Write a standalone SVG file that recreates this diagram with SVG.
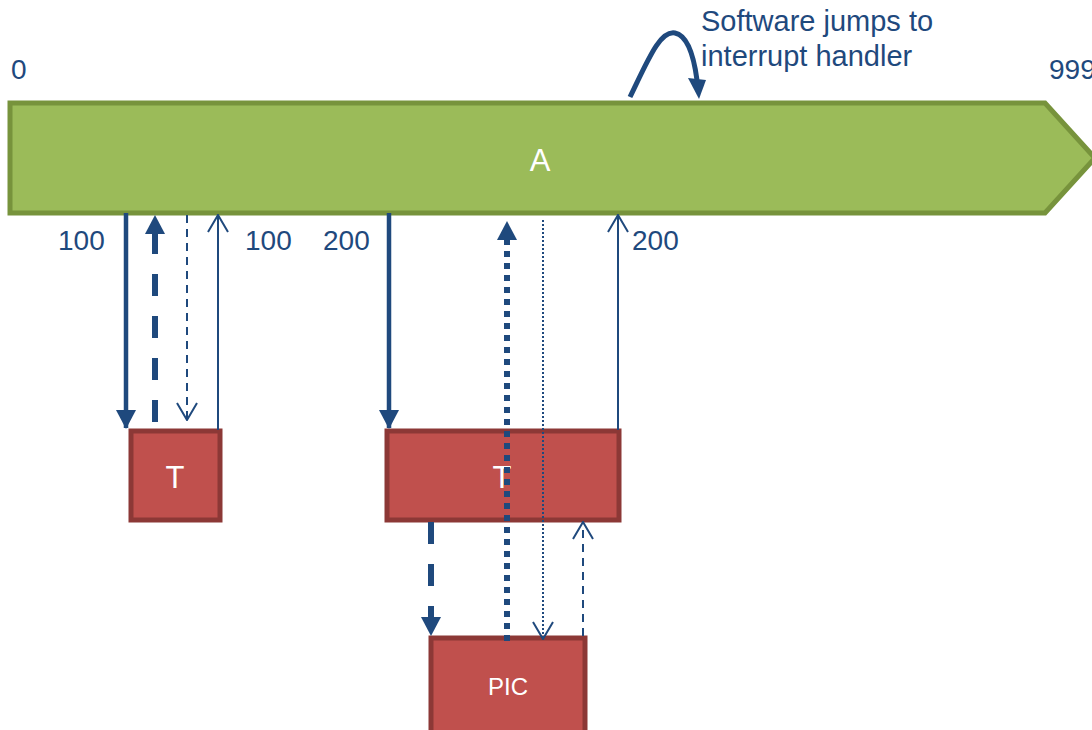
<svg xmlns="http://www.w3.org/2000/svg" width="1092" height="730" viewBox="0 0 1092 730">
<style>
.lbl{font-family:"Liberation Sans",Arial,sans-serif;font-size:28px;fill:#1F497D}
.top{font-size:29px}
.wt{font-family:"Liberation Sans",Arial,sans-serif;fill:#FFFFFF;text-anchor:middle}
.box{fill:#C0504D;stroke:#8C3836;stroke-width:5}
.c{fill:none;stroke:#1F497D}
</style>
<defs>
<marker id="fd" viewBox="0 0 19 20" refX="18" refY="10" markerWidth="19" markerHeight="20" markerUnits="userSpaceOnUse" orient="auto">
<path d="M0,0 L19,10 L0,20 Z" fill="#1F497D"/>
</marker>
<marker id="oa" viewBox="0 0 20 22" refX="19" refY="11" markerWidth="20" markerHeight="22" markerUnits="userSpaceOnUse" orient="auto">
<path d="M2,1 L19,11 L2,21" fill="none" stroke="#1F497D" stroke-width="2"/>
</marker>
</defs>
<g id="timeline">
<polygon points="10,103 1045,103 1095,158 1045,213 10,213" fill="#9BBB59" stroke="#77933C" stroke-width="5" stroke-linejoin="miter"/>
<text class="wt" x="540" y="171" font-size="31">A</text>
</g>
<g id="labels">
<text class="lbl" x="11" y="79">0</text>
<text class="lbl" x="1049" y="79">999</text>
<text class="lbl top" x="701" y="31">Software jumps to</text>
<text class="lbl top" x="701" y="66">interrupt handler</text>
<text class="lbl" x="58" y="250">100</text>
<text class="lbl" x="245" y="250">100</text>
<text class="lbl" x="323" y="250">200</text>
<text class="lbl" x="632" y="250">200</text>
</g>
<g id="t1">
<rect class="box" x="131" y="431" width="89" height="89"/>
<text class="wt" x="175" y="488" font-size="31">T</text>
</g>
<g id="t2">
<rect class="box" x="387" y="431" width="232" height="89"/>
<text class="wt" x="502" y="488" font-size="31">T</text>
</g>
<g id="pic">
<rect class="box" x="431" y="638" width="154" height="100"/>
<text class="wt" x="508" y="695" font-size="24">PIC</text>
</g>
<g id="connectors">
<path class="c" d="M630,97 C648,60 660,30 675,33 C690,36 695,65 697,80" stroke-width="5"/>
<path d="M688,78 L706,80 L699,99 Z" fill="#1F497D"/>
<line class="c" x1="126" y1="213" x2="126" y2="428" stroke-width="4.5" marker-end="url(#fd)"/>
<line class="c" x1="155" y1="422" x2="155" y2="216" stroke-width="6" stroke-dasharray="22 20" marker-end="url(#fd)"/>
<line class="c" x1="187" y1="215" x2="187" y2="420" stroke-width="2" stroke-dasharray="8 6" marker-end="url(#oa)"/>
<line class="c" x1="218" y1="430" x2="218" y2="215" stroke-width="2" marker-end="url(#oa)"/>
<line class="c" x1="389" y1="213" x2="389" y2="428" stroke-width="4.5" marker-end="url(#fd)"/>
<line class="c" x1="507" y1="641" x2="507" y2="222" stroke-width="6" stroke-dasharray="6 6" marker-end="url(#fd)"/>
<line class="c" x1="543" y1="220" x2="543" y2="639" stroke-width="2" stroke-dasharray="2 2" marker-end="url(#oa)"/>
<line class="c" x1="618" y1="430" x2="618" y2="215" stroke-width="2" marker-end="url(#oa)"/>
<line class="c" x1="431" y1="522" x2="431" y2="635" stroke-width="6" stroke-dasharray="22 20" marker-end="url(#fd)"/>
<line class="c" x1="583" y1="636" x2="583" y2="522" stroke-width="2" stroke-dasharray="8 6" marker-end="url(#oa)"/>
</g>
</svg>
